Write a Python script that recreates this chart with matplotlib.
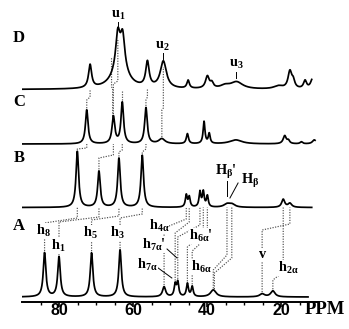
import numpy as np
import matplotlib.pyplot as plt
from matplotlib.ticker import FixedLocator

plt.rcParams['font.family'] = ['Liberation Serif', 'DejaVu Serif']
plt.rcParams['mathtext.fontset'] = 'custom'
plt.rcParams['mathtext.rm'] = 'Liberation Serif:bold'
plt.rcParams['mathtext.it'] = 'Liberation Serif:bold'
plt.rcParams['mathtext.bf'] = 'Liberation Serif:bold'

# peak tables: shift (ppm), height (px), half width (ppm)
a_ppm = [83.9, 80.0, 71.2, 63.5, 51.6, 48.6, 47.9, 45.3, 44.0, 38.3, 25.1, 22.2]
a_height = [44, 40, 44, 47, 10, 12, 14, 13, 10, 7, 3, 6]
a_width = [0.42, 0.42, 0.42, 0.42, 0.5, 0.32, 0.32, 0.32, 0.32, 0.9, 0.8, 0.7]

b_ppm = [75.05, 69.2, 63.8, 57.5, 45.6, 44.8, 41.9, 41.0, 39.9, 34.6, 33.3, 19.4, 17.6]
b_height = [56, 36, 49, 52, 12, 10, 15, 15, 11, 3, 3, 8, 4]
b_width = [0.42, 0.42, 0.42, 0.42, 0.3, 0.3, 0.3, 0.3, 0.3, 1.0, 1.0, 0.5, 0.6]

c_ppm = [72.5, 65.3, 62.9, 56.5, 52.2, 45.3, 40.8, 39.4, 32.2, 19.0, 18.0, 14.5, 11.0]
c_height = [34, 27, 41, 36, 5, 10, 22, 10, 4, 8, 3, 2, 4]
c_width = [0.42, 0.45, 0.42, 0.42, 1.0, 0.35, 0.3, 0.3, 2.0, 0.5, 0.4, 0.4, 0.6]

d_ppm = [71.6, 63.5, 64.1, 62.8, 56.1, 51.8, 45.1, 39.9, 38.7, 35.1, 32.0, 20.7,
         17.6, 16.7, 13.5, 11.5]
d_height = [23, 20, 35, 33, 25, 27, 8, 12, 5, 3, 7, 3, 17, 7, 8, 10]
d_width = [0.5, 2.5, 0.7, 0.7, 0.55, 1.0, 0.4, 0.6, 0.5, 1.5, 2.0, 1.5,
           0.6, 0.5, 0.5, 0.6]

# spectrum name, peaks, baseline (px from top), right end (ppm)
traces = {
    'A': (a_ppm, a_height, a_width, 297.0, 12.7),
    'B': (b_ppm, b_height, b_width, 207.5, 11.7),
    'C': (c_ppm, c_height, c_width, 144.0, 10.8),
    'D': (d_ppm, d_height, d_width, 89.5, 11.7),
}

# dotted correlation lines: lower, upper, ppm low, ppm up, bend low, bend up, end (None = baseline)
links = [
    ('A', 'B', 83.9, 75.05, 223, 218, None),
    ('A', 'B', 80.0, 69.2, 222, 217, None),
    ('A', 'B', 71.2, 63.8, 220, 216, None),
    ('A', 'B', 63.5, 57.5, 218, 214, None),
    ('A', 'B', 51.6, 45.6, 228, 219, None),
    ('A', 'B', 48.6, 44.8, 233, 222, None),
    ('A', 'B', 47.9, 41.9, 237, 225, None),
    ('A', 'B', 45.3, 41.0, 247, 233, None),
    ('A', 'B', 44.0, 39.9, 251, 237, None),
    ('A', 'B', 38.3, 34.6, 270, 255, None),
    ('A', 'B', 38.0, 33.3, 273, 258, None),
    ('A', 'B', 25.1, 17.6, 230, 224, None),
    ('A', 'B', 22.2, 19.4, 280, 272, None),
    ('B', 'C', 75.05, 72.5, 149, 148, None),
    ('B', 'C', 69.2, 65.3, 158, 155, None),
    ('B', 'C', 63.8, 62.9, 152, 150, None),
    ('B', 'C', 57.5, 56.5, 152, 149, None),
    ('C', 'D', 72.5, 71.6, 100, 97, None),
    ('C', 'D', 65.3, 64.1, 84, 81, 40),
    ('C', 'D', 65.5, 65.8, 88, 87, 57),
    ('C', 'D', 62.9, 62.9, 95, 95, None),
    ('C', 'D', 56.5, 56.1, 100, 97, None),
    ('C', 'D', 52.2, 51.8, 110, 108, 67),
]

# peak labels: text, ppm, px from top
labels = [
    ('h$_{8}$', 84.3, 231), ('h$_{1}$', 80.3, 246), ('h$_{5}$', 71.6, 233),
    ('h$_{3}$', 64.1, 233), ('h$_{4α}$', 53.0, 226), ("h$_{7α}$'", 54.3, 245),
    ('h$_{7α}$', 56.2, 265), ("h$_{6α}$'", 41.6, 236), ('h$_{6α}$', 41.6, 267),
    ('v', 25.1, 255), ('h$_{2α}$', 18.1, 268), ("H$_{β}$'", 34.9, 172),
    ('H$_{β}$', 28.4, 181), ('u$_{1}$', 64.1, 15), ('u$_{2}$', 52.2, 46),
    ('u$_{3}$', 32.2, 64),
]
leaders = [
    (64.1, 64.1, 22, 28), (51.8, 51.8, 52, 59), (32.2, 32.2, 72, 78),
    (34.6, 34.6, 180, 196), (31.6, 33.8, 183, 198),
    (50.8, 48.1, 249, 258), (53.2, 49.5, 268, 278),
]

major_ticks = [80, 60, 40, 20]
minor_ticks = [85, 75, 70, 65, 55, 50, 45, 35, 30, 25, 15, 10]
tick_labels = ['80', '60', '40', '20']


def signal(x, ppm, height, width):
    y = np.zeros_like(x)
    for p, h, w in zip(ppm, height, width):
        y += h * w ** 2 / ((x - p) ** 2 + w ** 2)
    return y


fig = plt.figure(figsize=(3.49, 3.29), dpi=100)
ax = fig.add_axes([22 / 349, 27 / 329, 296 / 349, 302 / 329])
ax.set_xlim(90, 10)
ax.set_ylim(302, 0)
ax.patch.set_visible(False)

for name, (ppm, height, width, base, end) in traces.items():
    x = np.linspace(90, end, 3000)
    ax.plot(x, base - signal(x, ppm, height, width), color='black', lw=1.25,
            zorder=2)

for lo, up, x_lo, x_up, bend_lo, bend_up, y_end in links:
    ppm, height, width, base, _ = traces[lo]
    top = base - signal(np.array([x_lo]), ppm, height, width)[0] - 1.5
    if y_end is None:
        y_end = traces[up][3]
    ax.plot([x_lo, x_lo, x_up, x_up], [top, bend_lo, bend_up, y_end],
            color='0.3', lw=0.85, ls=(0, (1, 1.2)), zorder=1)

for x0, x1, y0, y1 in leaders:
    ax.plot([x0, x1], [y0, y1], color='black', lw=0.7, zorder=1)

for txt, x, y in labels:
    ax.text(x, y, txt, fontsize=10.3, fontweight='bold', ha='center',
            va='center', zorder=3,
            bbox=dict(facecolor='white', edgecolor='none', pad=0.2))

for name, y in zip(['D', 'C', 'B', 'A'], [38, 102, 158, 226]):
    ax.text(90.8, y, name, fontsize=12, fontweight='bold', ha='center',
            va='center')

ax.text(8.1, 309.5, 'PPM', fontsize=13.5, fontweight='bold', ha='center',
        va='center', clip_on=False)

for s in ['top', 'left', 'right']:
    ax.spines[s].set_visible(False)
ax.spines['bottom'].set_linewidth(1.4)
ax.set_yticks([])
ax.xaxis.set_major_locator(FixedLocator(major_ticks))
ax.xaxis.set_minor_locator(FixedLocator(minor_ticks))
ax.set_xticklabels(tick_labels, fontfamily='Liberation Sans',
                   fontweight='bold', fontsize=11.5)
ax.tick_params(axis='x', which='major', length=3.8, width=1.2, pad=-3.2)
ax.tick_params(axis='x', which='minor', length=2.5, width=1.0)

fig.savefig('out.png', dpi=100)
